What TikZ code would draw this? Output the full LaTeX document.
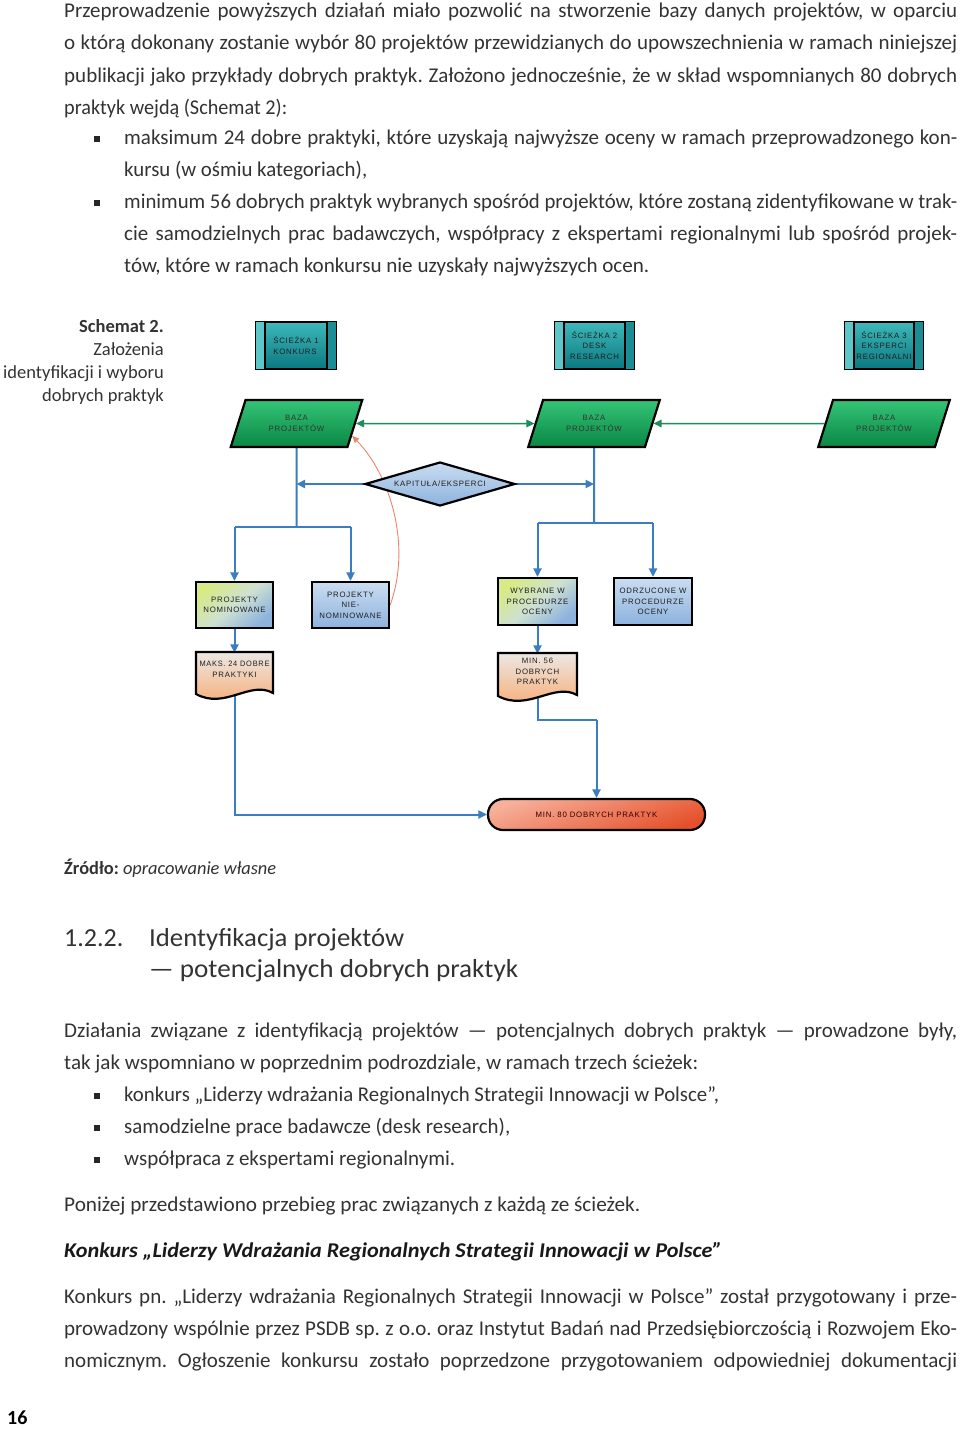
\documentclass[tikz,border=0pt]{standalone}
\usepackage{fontspec}
\usepackage{graphicx}
\setmainfont{Carlito}
\newfontfamily\dfont{Liberation Sans}[LetterSpace=10]
\usetikzlibrary{shapes.geometric,arrows.meta,calc}
\pgfdeclarelayer{background}
\pgfsetlayers{background,main}
\frenchspacing
\definecolor{tealA}{HTML}{3DB8BB}
\definecolor{tealB}{HTML}{0B7880}
\definecolor{tealL}{HTML}{5CC6C8}
\definecolor{tealD}{HTML}{1A8E94}
\definecolor{greenA}{HTML}{34C476}
\definecolor{greenB}{HTML}{0A8744}
\definecolor{gline}{HTML}{1E8C5E}
\definecolor{bline}{HTML}{3A7DC0}
\definecolor{oline}{HTML}{E8866A}
\definecolor{lbA}{HTML}{CADDF1}
\definecolor{lbB}{HTML}{8DB2DD}
\definecolor{ygA}{HTML}{D8EA86}
\definecolor{docA}{HTML}{ECE7E3}
\definecolor{docB}{HTML}{F8A86C}
\definecolor{redA}{HTML}{F7B09A}
\definecolor{redB}{HTML}{E5502B}
\definecolor{txtc}{HTML}{1F1F1F}
\definecolor{bodyc}{HTML}{333333}
\newlength\jlw
\newcommand\jl[2]{\settowidth\jlw{#2}\ifdim\jlw>#1\relax\resizebox{#1}{\height}{#2}\else\makebox[#1][s]{#2}\fi}
\newcommand\fw[2]{\resizebox{#1}{\height}{#2}}
\begin{document}
\begin{tikzpicture}[x=1pt,y=-1pt,
  txt/.style={anchor=base west, inner sep=0pt, text=bodyc, font=\fontsize{21}{25}\selectfont},
  captxt/.style={anchor=base east, inner sep=0pt, text=bodyc, font=\fontsize{18.5}{22}\selectfont},
  bulsq/.style={fill=black!85},
  dtxt/.style={font=\dfont\fontsize{7.8}{10.5}\selectfont, text=txtc, align=center, inner sep=1pt},
  sbox/.style={dtxt, draw=black, line width=2.2pt, top color=tealA, bottom color=tealB, minimum height=47pt},
  baza/.style={dtxt, trapezium, trapezium left angle=65, trapezium right angle=115, trapezium stretches=true, minimum width=132pt, minimum height=47pt, draw=black, line width=2.2pt, top color=greenA, bottom color=greenB, text=black!80},
  lbox/.style={dtxt, draw=black, line width=2.2pt, minimum height=46pt},
  ygbox/.style={lbox, top color=ygA, bottom color=lbB, middle color=lbA!70!ygA, shading angle=40},
  blbox/.style={lbox, top color=lbA, bottom color=lbB},
  docshape/.style={draw=black, line width=2.2pt, top color=docA, bottom color=docB},
  docnode/.style={dtxt, minimum height=35pt},
  blue/.style={draw=bline, line width=2pt},
  btip/.style={-{Triangle[length=8.5pt,width=8pt]}},
  green/.style={draw=gline, line width=1.5pt},
  gtip/.style={{Triangle[length=8pt,width=7.5pt]}-{Triangle[length=8pt,width=7.5pt]}},
]
\begin{pgfonlayer}{background}
\fill[white] (0,0) rectangle (960,1429);
\end{pgfonlayer}
\useasboundingbox (0,0) rectangle (960,1429);

% ---------- first paragraph ----------
\node[txt] (p1a) at (64,18) {\jl{893pt}{Przeprowadzenie powyższych działań miało pozwolić na stworzenie bazy danych projektów, w oparciu}};
\node[txt] (p1b) at (64,50) {\jl{893pt}{o którą dokonany zostanie wybór 80 projektów przewidzianych do upowszechnienia w ramach niniejszej}};
\node[txt] (p1c) at (64,82) {\jl{893pt}{publikacji jako przykłady dobrych praktyk. Założono jednocześnie, że w skład wspomnianych 80 dobrych}};
\node[txt] (p1d) at (64,114) {\fw{223pt}{praktyk wejdą (Schemat 2):}};
\fill[bulsq] (94,136) rectangle (100,142);
\node[txt] (b1a) at (124,144) {\jl{833pt}{maksimum 24 dobre praktyki, które uzyskają najwyższe oceny w ramach przeprowadzonego kon-}};
\node[txt] (b1b) at (124,176) {\fw{243pt}{kursu (w ośmiu kategoriach),}};
\fill[bulsq] (94,200) rectangle (100,206);
\node[txt] (b2a) at (124,208) {\jl{833pt}{minimum 56 dobrych praktyk wybranych spośród projektów, które zostaną zidentyfikowane w trak-}};
\node[txt] (b2b) at (124,240) {\jl{833pt}{cie samodzielnych prac badawczych, współpracy z ekspertami regionalnymi lub spośród projek-}};
\node[txt] (b2c) at (124,272) {\fw{525pt}{tów, które w ramach konkursu nie uzyskały najwyższych ocen.}};

% ---------- caption ----------
\node[captxt] (c1) at (164,332) {\textbf{Schemat 2.}};
\node[captxt] (c2) at (164,355) {Założenia};
\node[captxt] (c3) at (164,378) {identyfikacji i wyboru};
\node[captxt] (c4) at (164,401) {dobrych praktyk};

% ---------- diagram ----------
\node[sbox, minimum width=80pt, align=left] (s1) at (296,345.5) {ŚCIEŻKA 1\\KONKURS};
\node[sbox, minimum width=79pt] (s2) at (594.5,345.5) {ŚCIEŻKA 2\\DESK\\RESEARCH};
\node[sbox, minimum width=78pt] (s3) at (884,345.5) {ŚCIEŻKA 3\\EKSPERCI\\REGIONALNI};
\foreach \n in {s1,s2,s3}{
  \fill[tealL] ([xshift=1.1pt,yshift=-1.1pt]\n.north west) rectangle ([xshift=10pt,yshift=1.1pt]\n.south west);
  \fill[tealD] ([xshift=-1.1pt,yshift=-1.1pt]\n.north east) rectangle ([xshift=-10pt,yshift=1.1pt]\n.south east);
  \draw[line width=1.8pt] ([xshift=10pt]\n.north west) -- ([xshift=10pt]\n.south west);
  \draw[line width=1.8pt] ([xshift=-10pt]\n.north east) -- ([xshift=-10pt]\n.south east);
}

\node[baza] (z1) at (296.5,423.5) {BAZA\\PROJEKTÓW};
\node[baza] (z2) at (594,423.5) {BAZA\\PROJEKTÓW};
\node[baza] (z3) at (884,423.5) {BAZA\\PROJEKTÓW};

\node[dtxt, diamond, aspect=3.4, minimum width=150pt, minimum height=44pt, inner sep=0pt, draw=black, line width=2.2pt, top color=lbA, bottom color=lbB] (k) at (440,484) {KAPITUŁA/EKSPERCI};

\node[ygbox, minimum width=77pt] (n1) at (234.5,605) {PROJEKTY\\NOMINOWANE};
\node[blbox, minimum width=77pt] (n2) at (350.5,605) {PROJEKTY\\NIE-\\NOMINOWANE};
\node[ygbox, minimum width=79pt, minimum height=47pt] (w1) at (537.5,601.5) {WYBRANE W\\PROCEDURZE\\OCENY};
\node[blbox, minimum width=78pt, minimum height=47pt] (w2) at (653,601.5) {ODRZUCONE W\\PROCEDURZE\\OCENY};

\path[docshape] (196,652) -- (273,652) -- (273,693) .. controls (250,680) and (225,710) .. (196,694) -- cycle;
\node[docnode, minimum width=77pt] (m24) at (234.5,669.5) {\fw{70pt}{MAKS. 24 DOBRE}\\PRAKTYKI};
\path[docshape] (498,653) -- (577,653) -- (577,695) .. controls (554,682) and (528,712) .. (498,696) -- cycle;
\node[docnode, minimum width=79pt, minimum height=37pt] (m56) at (537.5,671.5) {MIN. 56\\DOBRYCH\\PRAKTYK};

\node[dtxt, rectangle, rounded corners=15pt, minimum width=217pt, minimum height=31pt, draw=black, line width=2.2pt, top color=redA, bottom color=redB, shading angle=20, text=black!80!red] (e) at (596.5,814.5) {MIN. 80 DOBRYCH PRAKTYK};

\coordinate (j1) at (296.5,527);
\coordinate (j2) at (594,523);
\coordinate (j3) at (596.5,720);
\coordinate (zt) at ($(z1.bottom right corner)!0.25!(z1.top right corner)$);

\begin{pgfonlayer}{background}
\draw[green, gtip] (z1) -- (z2);
\draw[green, -{Triangle[length=8pt,width=7.5pt]}] (z3) -- (z2);
\draw[blue] (z1.south) -- (j1);
\draw[blue, btip] (k.west) -- (k.west -| z1.south);
\draw[blue] (n1.north |- j1) -- (n2.north |- j1);
\draw[blue, btip] (n1.north |- j1) -- (n1.north);
\draw[blue, btip] (n2.north |- j1) -- (n2.north);
\draw[blue] (z2.south) -- (j2);
\draw[blue, btip] (k.east) -- (k.east -| z2.south);
\draw[blue] (w1.north |- j2) -- (w2.north |- j2);
\draw[blue, btip] (w1.north |- j2) -- (w1.north);
\draw[blue, btip] (w2.north |- j2) -- (w2.north);
\draw[blue, btip] (n1.south) -- ([yshift=-1pt]m24.north);
\draw[blue, btip] (w1.south) -- ([yshift=-1pt]m56.north);
\draw[blue, btip] (m24.south) |- (e.west);
\draw[blue] (m56.south) |- (j3);
\draw[blue, btip] (j3) -- (e.north);
\draw[draw=oline, line width=0.9pt, -{Triangle[length=7pt,width=6pt]}] (n2.east) .. controls (412,545) and (390,475) .. (zt);
\end{pgfonlayer}

% ---------- source ----------
\node[anchor=base west, inner sep=0pt, text=bodyc, font=\fontsize{18.5}{22}\selectfont] (src) at (64,874) {\fw{212pt}{\textbf{Źródło:} \textit{opracowanie własne}}};

% ---------- heading ----------
\node[anchor=base west, inner sep=0pt, text=bodyc, font=\fontsize{26}{30}\selectfont] (h0) at (64,946) {1.2.2.};
\node[anchor=base west, inner sep=0pt, text=bodyc, font=\fontsize{26}{30}\selectfont] (h1) at (149,946) {\fw{255pt}{Identyfikacja projektów}};
\node[anchor=base west, inner sep=0pt, text=bodyc, font=\fontsize{26}{30}\selectfont] (h2) at (149,977) {\fw{369pt}{— potencjalnych dobrych praktyk}};

% ---------- second paragraph ----------
\node[txt] (p2a) at (64,1037) {\jl{893pt}{Działania związane z identyfikacją projektów — potencjalnych dobrych praktyk — prowadzone były,}};
\node[txt] (p2b) at (64,1069) {\fw{634pt}{tak jak wspomniano w poprzednim podrozdziale, w ramach trzech ścieżek:}};
\fill[bulsq] (94,1093) rectangle (100,1099);
\node[txt] (q1) at (124,1101) {\fw{595pt}{konkurs „Liderzy wdrażania Regionalnych Strategii Innowacji w Polsce”,}};
\fill[bulsq] (94,1125) rectangle (100,1131);
\node[txt] (q2) at (124,1133) {\fw{386pt}{samodzielne prace badawcze (desk research),}};
\fill[bulsq] (94,1157) rectangle (100,1163);
\node[txt] (q3) at (124,1165) {\fw{331pt}{współpraca z ekspertami regionalnymi.}};
\node[txt] (p3) at (64,1211) {\fw{576pt}{Poniżej przedstawiono przebieg prac związanych z każdą ze ścieżek.}};
\node[txt, text=black!90] (hk) at (64,1257) {\fw{658pt}{\textbf{\textit{Konkurs „Liderzy Wdrażania Regionalnych Strategii Innowacji w Polsce”}}}};
\node[txt] (p4a) at (64,1303) {\jl{893pt}{Konkurs pn. „Liderzy wdrażania Regionalnych Strategii Innowacji w Polsce” został przygotowany i prze-}};
\node[txt] (p4b) at (64,1335) {\jl{893pt}{prowadzony wspólnie przez PSDB sp. z o.o. oraz Instytut Badań nad Przedsiębiorczością i Rozwojem Eko-}};
\node[txt] (p4c) at (64,1367) {\jl{893pt}{nomicznym. Ogłoszenie konkursu zostało poprzedzone przygotowaniem odpowiedniej dokumentacji}};

\node[anchor=base west, inner sep=0pt, text=black, font=\fontsize{20}{24}\selectfont\bfseries] (pg) at (7,1424) {16};
\end{tikzpicture}
\end{document}
